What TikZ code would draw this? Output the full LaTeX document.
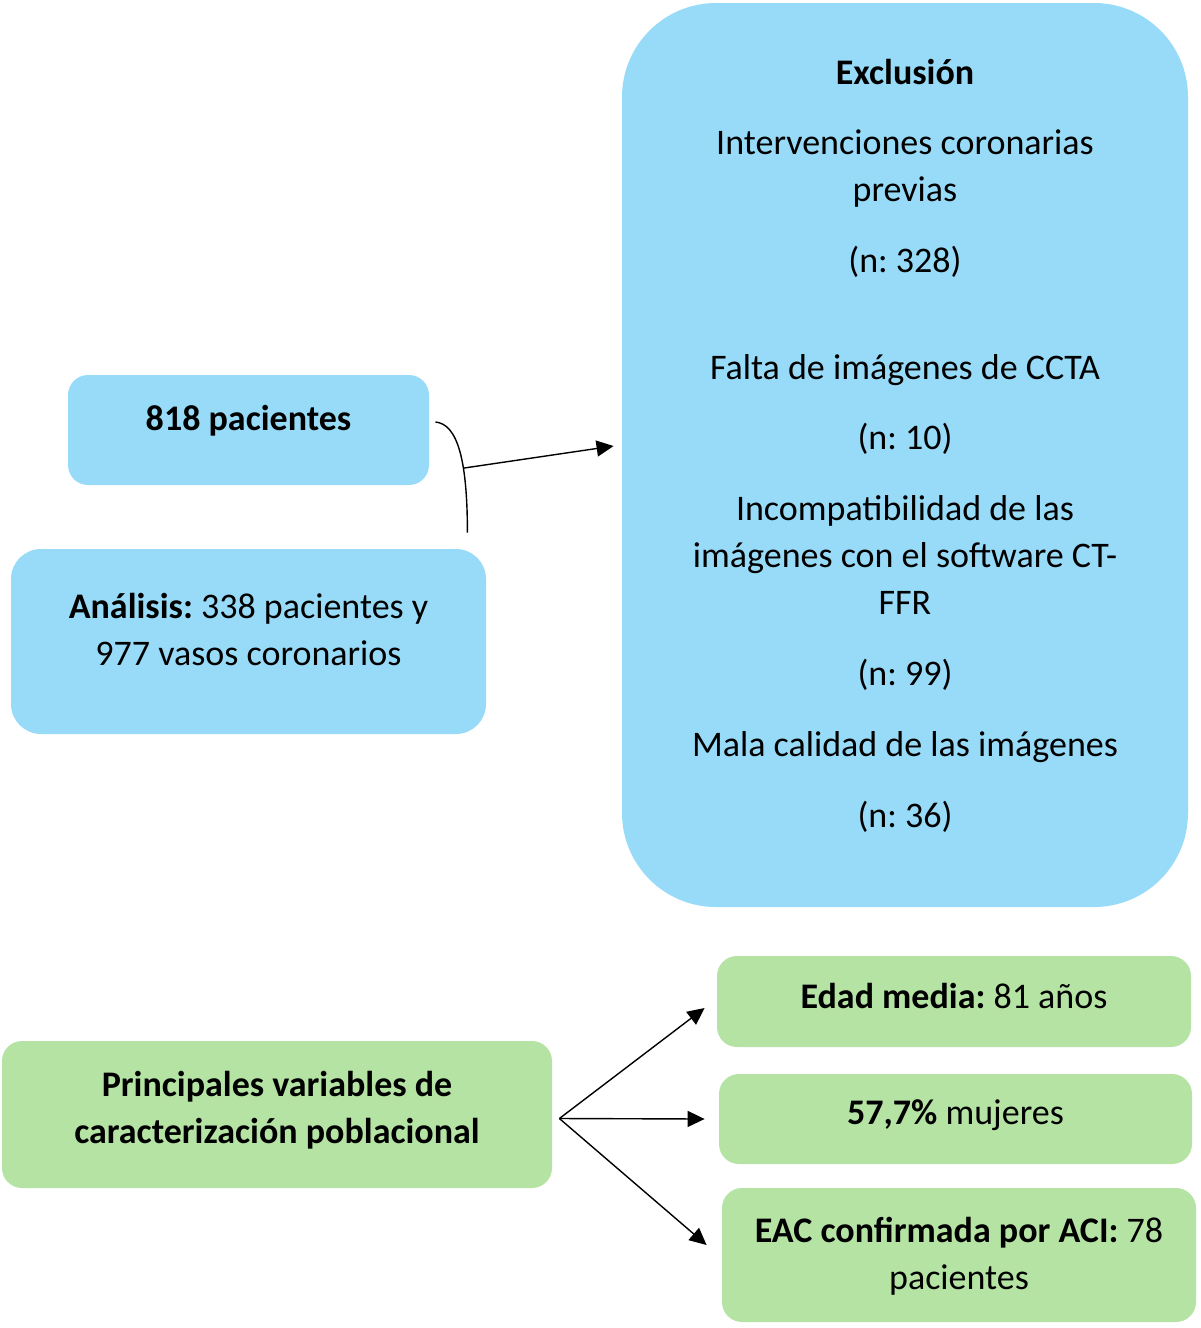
\documentclass[tikz,border=0pt]{standalone}
\usepackage{fontspec}
\setmainfont{Carlito}
\usepackage{tikz}
\usetikzlibrary{arrows.meta,calc}
\definecolor{boxblue}{RGB}{151,219,248}
\definecolor{boxgreen}{RGB}{180,227,164}
\frenchspacing

\begin{document}
\begin{tikzpicture}
[
x=0.5pt, y=-0.5pt,
style0/.style={draw=none, text=black, font=\fontsize{18}{23.5}\selectfont, inner sep=0pt},
style1/.style={style0, fill=boxblue, rounded corners=10pt},
style2/.style={style0, fill=boxgreen, rounded corners=10pt},
style3/.style={-{Triangle[length=8.5pt,width=8pt]}, line width=0.7pt}
]
\useasboundingbox (0,0) rectangle (1200,1328);
% upper part
\node (A) [style1, minimum width=180.5pt, minimum height=55pt] at (248.5,430) {\raisebox{12pt}{\textbf{818 pacientes}}};
\node (B) [style1, rounded corners=15pt, minimum width=237.5pt, minimum height=92.5pt] at (248.5,641.5) {\raisebox{4.5pt}[\height][\depth]{\begin{tabular}{@{}c@{}}\textbf{Análisis:} 338 pacientes y\\ 977 vasos coronarios\end{tabular}}};
\node (C) [style1, rounded corners=47pt, minimum width=283pt, minimum height=452pt] at (905,455) {};
\node (C1) [style0, align=center, anchor=north] at ($(C.north)+(0,56)$) {\textbf{Exclusión}\\[11.5pt]
  Intervenciones coronarias\\ previas\\[12pt]
  (n: 328)\\[30pt]
  Falta de imágenes de CCTA\\[11.5pt]
  (n: 10)\\[12pt]
  Incompatibilidad de las\\ imágenes con el software CT-\\ FFR\\[12pt]
  (n: 99)\\[12pt]
  Mala calidad de las imágenes\\[12pt]
  (n: 36)};
\draw [line width=0.7pt] ([xshift=3pt,yshift=4pt]A.east) .. controls ([xshift=14pt,yshift=3pt]A.east) and ([xshift=-9.5pt,yshift=44.5pt]B.north east) .. coordinate[pos=0.64] (j) ([xshift=-9.5pt,yshift=8pt]B.north east);
\draw [style3] (j) -- ([xshift=-4pt,yshift=4.5pt]C.west);
% lower part
\node (D) [style2, minimum width=275pt, minimum height=73.5pt] at (277,1114.5) {\raisebox{2pt}[\height][\depth]{\begin{tabular}{@{}c@{}}\textbf{Principales variables de}\\ \textbf{caracterización poblacional}\end{tabular}}};
\node (E) [style2, minimum width=237pt, minimum height=45.5pt] at (954,1001.5) {\raisebox{5.5pt}{\textbf{Edad media:} 81 años}};
\node (F) [style2, minimum width=236.5pt, minimum height=45pt] at (955.5,1119) {\raisebox{6.5pt}{\textbf{57,7\%} mujeres}};
\node (G) [style2, minimum width=237pt, minimum height=67pt] at (959,1255) {\raisebox{-1pt}[\height][\depth]{\begin{tabular}{@{}c@{}}\textbf{EAC confirmada por ACI:} 78\\ pacientes\end{tabular}}};
\coordinate (s) at ([xshift=3.5pt,yshift=-2pt]D.east);
\draw [style3] (s) -- ([xshift=-6pt,yshift=-3.25pt]E.west);
\draw [style3] (s) -- ([xshift=-7pt]F.west);
\draw [style3] (s) -- ([xshift=-7.5pt,yshift=5pt]G.west);
\end{tikzpicture}
\end{document}
